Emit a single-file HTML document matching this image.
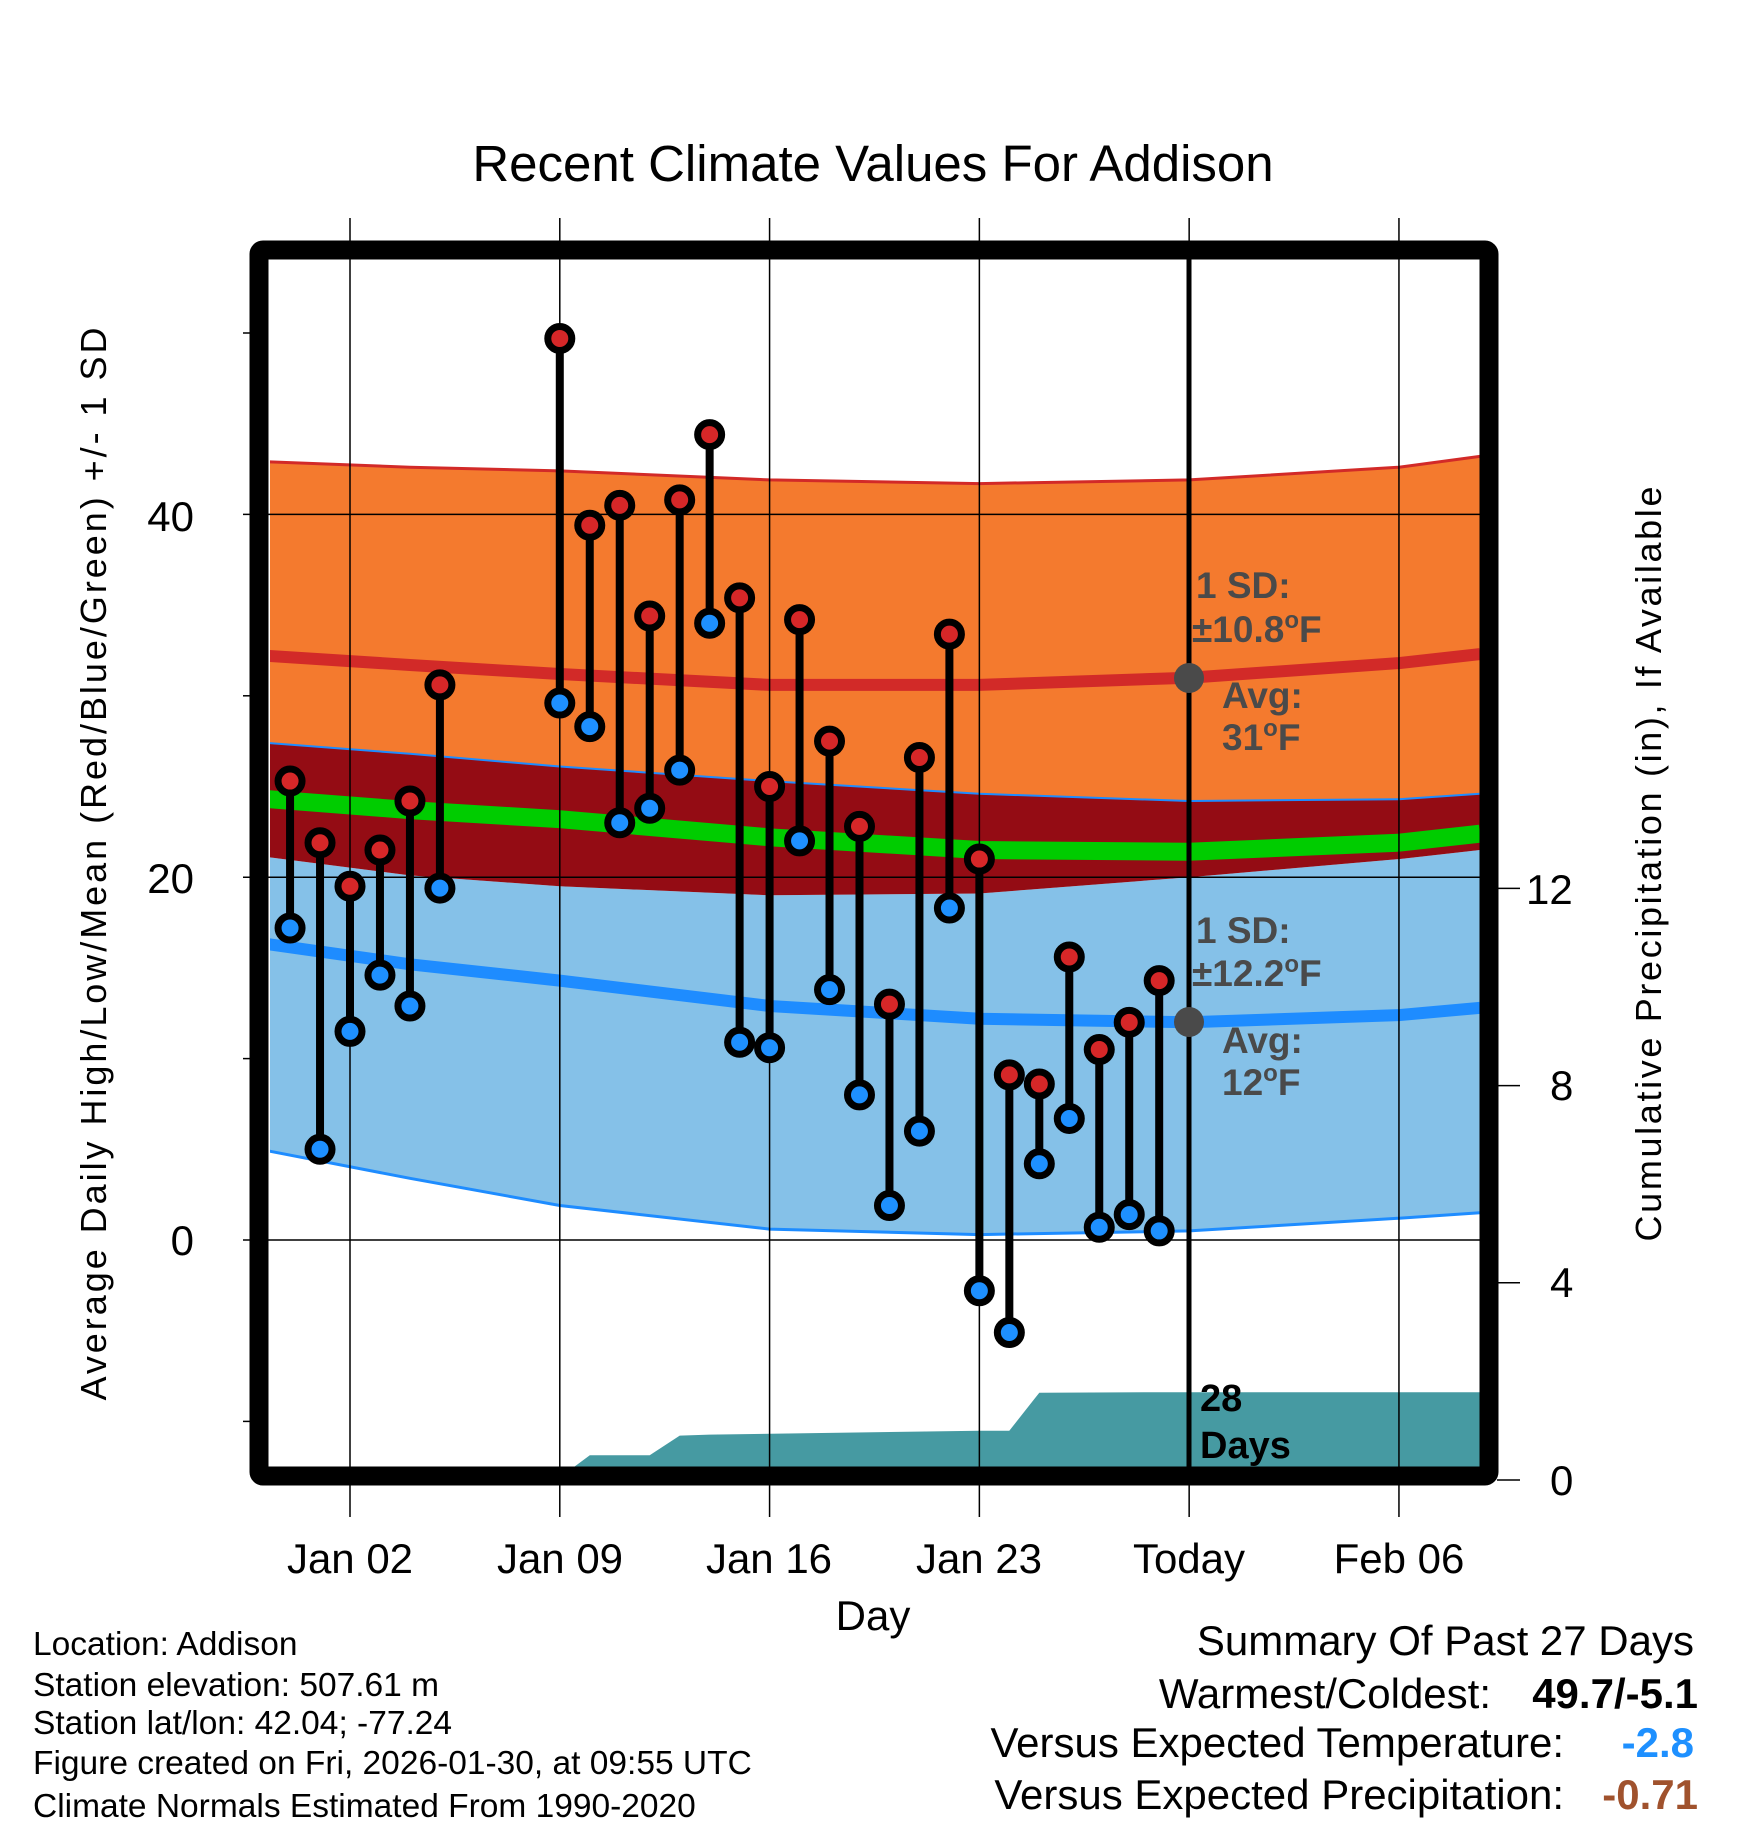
<!DOCTYPE html>
<html><head><meta charset="utf-8"><style>
body{margin:0;background:#fff}
svg{display:block;font-family:"Liberation Sans",Arial,sans-serif}
</style></head><body>
<svg id="chart" width="1748" height="1828" viewBox="0 0 1748 1828" xmlns="http://www.w3.org/2000/svg">
<defs><clipPath id="pc"><rect x="270" y="259" width="1210" height="1211"/></clipPath></defs>
<g id="bands" clip-path="url(#pc)"></g>
<g id="grid"></g>
<g id="marks" clip-path="url(#pc)"></g>
<g id="axes"></g>
</svg>
<script>
// ---- data ----
const normDays   = [-0.7, 4, 9, 16, 23, 30, 37, 39.7];
const highUpper  = [42.9, 42.6, 42.4, 41.9, 41.7, 41.9, 42.6, 43.2];
const highAvg    = [32.2, 31.7, 31.2, 30.6, 30.6, 31.0, 31.8, 32.3];
const highLower  = [27.4, 26.8, 26.1, 25.3, 24.6, 24.2, 24.3, 24.6];
const meanAvg    = [24.3, 23.7, 23.2, 22.2, 21.5, 21.4, 21.9, 22.4];
const lowUpper   = [21.1, 20.1, 19.5, 19.0, 19.1, 20.0, 21.0, 21.5];
const lowAvg     = [16.3, 15.2, 14.3, 12.9, 12.2, 12.0, 12.4, 12.8];
const lowLower   = [4.9, 3.4, 1.9, 0.6, 0.3, 0.5, 1.2, 1.5];
const obsDays    = [0,1,2,3,4,5,9,10,11,12,13,14,15,16,17,18,19,20,21,22,23,24,25,26,27,28,29];
const obsHigh    = [25.3,21.9,19.5,21.5,24.2,30.6,49.7,39.4,40.5,34.4,40.8,44.4,35.4,25.0,34.2,27.5,22.8,13.0,26.6,33.4,21.0,9.1,8.6,15.6,10.5,12.0,14.3];
const obsLow     = [17.2,5.0,11.5,14.6,12.9,19.4,29.6,28.3,23.0,23.8,25.9,34.0,10.9,10.6,22.0,13.8,8.0,1.9,6.0,18.3,-2.8,-5.1,4.2,6.7,0.7,1.4,0.5];
const precipDays = [-0.7,8.6,9,10,12,13,14,23,24,25,29,39.7];
const precipVals = [0,0,0.05,0.5,0.5,0.9,0.92,1.0,1.0,1.77,1.78,1.78];
const xTickDays  = [2,9,16,23,30,37];
const xTickLabels= ["Jan 02","Jan 09","Jan 16","Jan 23","Today","Feb 06"];
const yTicks     = [0,20,40];
const yMinor     = [-10,10,30,50];
const pTicks     = [0,4,8,12];

const X = d => 350 + (d-2)*29.97;
const Y = t => 1240 - t*18.14;
const YP = p => 1480 - p*49.3;
const NS = "http://www.w3.org/2000/svg";
function mk(tag, attrs, parent){const e=document.createElementNS(NS,tag);for(const k in attrs)e.setAttribute(k,attrs[k]);parent.appendChild(e);return e;}
const pts = (ds,vs,f)=>ds.map((d,i)=>X(d).toFixed(1)+","+f(vs[i]).toFixed(1));
function area(up,lo,fill,name){
  const p=pts(normDays,up,Y).concat(pts(normDays,lo,Y).reverse()).join(" ");
  const e=mk("polygon",{points:p,fill:fill},bands);
  
  
}
function line(vs,col,w,name){
  const e=mk("polyline",{points:pts(normDays,vs,Y).join(" "),fill:"none",stroke:col,"stroke-width":w},bands);
  
  
}
const bands=document.getElementById("bands");
area(lowUpper,lowLower,"#85c1e8","low-sd-band");
area(highLower,lowUpper,"#940c14","overlap-band");
area(highUpper,highLower,"#f47a2e","high-sd-band");
line(meanAvg,"#00cc00",18,"mean-normal-line");
line(highAvg,"#d22a28",12,"high-normal-line");
line(lowAvg,"#1e8cff",12,"low-normal-line");
line(highUpper,"#d22a28",3,"high-upper-line");
line(highLower,"#1e8cff",2,"high-lower-line");
line(lowLower,"#1e8cff",3,"low-lower-line");
{
  const p=pts(precipDays,precipVals,YP);
  p.push(X(39.7)+","+YP(0)); p.unshift(X(-0.7)+","+YP(0));
  const e=mk("polygon",{points:p.join(" "),fill:"#469aa2"},bands);
  
  
}
const grid=document.getElementById("grid");
xTickDays.forEach(d=>{
  const e=mk("line",{x1:X(d),x2:X(d),y1:218,y2:1517,stroke:"#000","stroke-width":1.5},grid);
  
  
});
yTicks.forEach(t=>{
  const e=mk("line",{x1:243,x2:1480,y1:Y(t),y2:Y(t),stroke:"#000","stroke-width":1.5},grid);
  
  
});
yMinor.forEach(t=>{
  const e=mk("line",{x1:243,x2:252,y1:Y(t),y2:Y(t),stroke:"#000","stroke-width":1.5},grid);
  
  
});
pTicks.forEach(p=>{
  const e=mk("line",{x1:1497,x2:1520,y1:YP(p),y2:YP(p),stroke:"#000","stroke-width":1.5},grid);
  
  
});
const marks=document.getElementById("marks");
obsDays.forEach((d,i)=>{
  const s=mk("line",{x1:X(d),x2:X(d),y1:Y(obsHigh[i]),y2:Y(obsLow[i]),stroke:"#000","stroke-width":8},marks);
  
  
  const h=mk("circle",{cx:X(d),cy:Y(obsHigh[i]),r:12,fill:"#d62728",stroke:"#000","stroke-width":7},marks);
  
  
  const l=mk("circle",{cx:X(d),cy:Y(obsLow[i]),r:12,fill:"#1e90ff",stroke:"#000","stroke-width":7},marks);
  
  
});
</script>
<svg style="position:absolute;left:0;top:0" width="1748" height="1828" viewBox="0 0 1748 1828">
<line x1="1189" y1="259" x2="1189" y2="1470" stroke="#000" stroke-width="5"/>
<circle cx="1189" cy="678" r="15" fill="#4a4a4a"/>
<circle cx="1189" cy="1022" r="15" fill="#4a4a4a"/>
<g font-weight="bold" font-size="37" fill="#4a4a4a" font-family="Liberation Sans, sans-serif">
<text x="1196" y="598">1 SD:</text>
<text x="1192" y="642">±10.8<tspan font-size="24" dy="-14">o</tspan><tspan dy="14">F</tspan></text>
<text x="1222" y="708">Avg:</text>
<text x="1222" y="750">31<tspan font-size="24" dy="-14">o</tspan><tspan dy="14">F</tspan></text>
<text x="1196" y="943">1 SD:</text>
<text x="1192" y="986">±12.2<tspan font-size="24" dy="-14">o</tspan><tspan dy="14">F</tspan></text>
<text x="1222" y="1053">Avg:</text>
<text x="1222" y="1095">12<tspan font-size="24" dy="-14">o</tspan><tspan dy="14">F</tspan></text>
</g>
<g font-weight="bold" font-size="38" fill="#000" font-family="Liberation Sans, sans-serif">
<text x="1200" y="1411">28</text>
<text x="1200" y="1458">Days</text>
</g>
<rect x="259" y="250" width="1230" height="1226" fill="none" stroke="#000" stroke-width="19" rx="4"/>
<g font-family="Liberation Sans, sans-serif" fill="#000">
<text x="873" y="181" font-size="51" text-anchor="middle">Recent Climate Values For Addison</text>
<text x="194" y="531" font-size="42" text-anchor="end">40</text>
<text x="194" y="893" font-size="42" text-anchor="end">20</text>
<text x="194" y="1255" font-size="42" text-anchor="end">0</text>
<text x="1526" y="904" font-size="42">12</text>
<text x="1550" y="1100" font-size="42">8</text>
<text x="1550" y="1297" font-size="42">4</text>
<text x="1550" y="1495" font-size="42">0</text>
<g font-size="42" text-anchor="middle">
<text x="350" y="1573">Jan 02</text>
<text x="560" y="1573">Jan 09</text>
<text x="769" y="1573">Jan 16</text>
<text x="979" y="1573">Jan 23</text>
<text x="1189" y="1573">Today</text>
<text x="1399" y="1573">Feb 06</text>
</g>
<text x="873" y="1630" font-size="42" text-anchor="middle">Day</text>
<text transform="translate(106,864) rotate(-90)" font-size="36" text-anchor="middle" textLength="1073">Average Daily High/Low/Mean (Red/Blue/Green) +/- 1 SD</text>
<text transform="translate(1661,864) rotate(-90)" font-size="36" text-anchor="middle" textLength="755">Cumulative Precipitation (in), If Available</text>
<g font-size="33.5">
<text x="33" y="1655">Location: Addison</text>
<text x="33" y="1696">Station elevation: 507.61 m</text>
<text x="33" y="1734">Station lat/lon: 42.04; -77.24</text>
<text x="33" y="1774">Figure created on Fri, 2026-01-30, at 09:55 UTC</text>
<text x="33" y="1817">Climate Normals Estimated From 1990-2020</text>
</g>
<g font-size="42" text-anchor="end">
<text x="1694" y="1655">Summary Of Past 27 Days</text>
<text x="1491" y="1708">Warmest/Coldest:</text>
<text x="1698" y="1708" font-weight="bold">49.7/-5.1</text>
<text x="1564" y="1757">Versus Expected Temperature:</text>
<text x="1694" y="1757" font-weight="bold" fill="#1e90ff">-2.8</text>
<text x="1564" y="1809">Versus Expected Precipitation:</text>
<text x="1698" y="1809" font-weight="bold" fill="#a0522d">-0.71</text>
</g>
</g>
</svg>
</body></html>
